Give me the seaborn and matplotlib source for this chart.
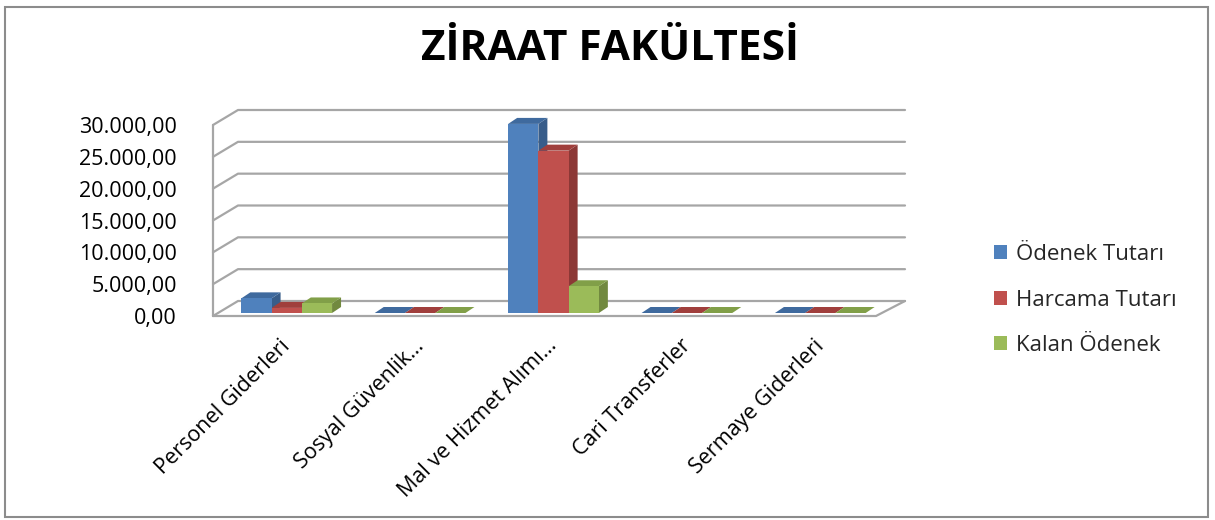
import numpy as np
import pandas as pd
import matplotlib
matplotlib.use("Agg")
import matplotlib.pyplot as plt
import seaborn as sns
from matplotlib.patches import Polygon, Patch, Rectangle
from matplotlib.ticker import FuncFormatter

# ---- data ----
categories = ["Personel Giderleri", "Sosyal Güvenlik…", "Mal ve Hizmet Alımı…",
              "Cari Transferler", "Sermaye Giderleri"]
odenek = [2300, 0, 29700, 0, 0]
harcama = [800, 0, 25500, 0, 0]
kalan = [1500, 0, 4200, 0, 0]
series_names = ["Ödenek Tutarı", "Harcama Tutarı", "Kalan Ödenek"]
yticks = [0, 5000, 10000, 15000, 20000, 25000, 30000]
title = "ZİRAAT FAKÜLTESİ"

front_colors = ["#4F81BD", "#C0504D", "#9BBB59"]
side_colors = ["#385D8A", "#8C3836", "#71893F"]
top_colors = ["#3F6A9E", "#A03F3C", "#819F48"]

df = pd.DataFrame({
    "cat": categories * 3,
    "series": sum([[s] * len(categories) for s in series_names], []),
    "value": odenek + harcama + kalan,
})

sns.set_theme(style="white")
plt.rcParams["font.family"] = ["Open Sans", "DejaVu Sans"]

W, H = 1215, 520
fig = plt.figure(figsize=(W / 100, H / 100), dpi=100)
fig.patch.set_facecolor("white")

# axes (front plane)
x0, x1, yb, yt = 213, 880, 316, 125
ax = fig.add_axes([x0 / W, (H - yb) / H, (x1 - x0) / W, (yb - yt) / H])
ax.set_facecolor("none")

sns.barplot(data=df, x="cat", y="value", hue="series", hue_order=series_names,
            palette=front_colors, width=0.68, linewidth=0, saturation=1,
            ax=ax, legend=False, zorder=3)
ax.set_xlim(-0.5, len(categories) - 0.5)
ax.set_ylim(0, 30000)

# pixel -> data conversions
px_x = (len(categories)) / (x1 - x0)
px_y = 30000 / (yb - yt)

# back wall grid
gdx, gdy = 25 * px_x, 15 * px_y
xl, xr = -0.5, len(categories) - 0.5
gc = "#A6A6A6"
for v in yticks:
    ax.plot([xl, xl + gdx, xr + gdx], [v, v + gdy, v + gdy], color=gc, lw=1.6,
            clip_on=False, zorder=1)
ax.plot([xl, xl], [0, 30000], color=gc, lw=1.6, clip_on=False, zorder=1)
# floor front edge
ax.plot([xl, xr - 4 * px_x, xr + gdx], [0, 0, gdy], color=gc, lw=1.6,
        clip_on=False, zorder=1)

# 3D faces for bars (bars sit a little into the depth)
shift_x, shift_y = 7 * px_x, 3 * px_y
ddx, ddy = 9 * px_x, 6 * px_y
n = len(categories)
for i, p in enumerate(list(ax.patches)):
    s = i // n
    p.set_x(p.get_x() + shift_x)
    p.set_y(shift_y)
    bx, bw, bh = p.get_x(), p.get_width(), p.get_height()
    b0, b1 = shift_y, shift_y + bh
    top = Polygon([[bx, b1], [bx + bw, b1], [bx + bw + ddx, b1 + ddy], [bx + ddx, b1 + ddy]],
                  closed=True, facecolor=top_colors[s], edgecolor="none", zorder=2.5,
                  clip_on=False)
    side = Polygon([[bx + bw, b0], [bx + bw + ddx, b0 + ddy], [bx + bw + ddx, b1 + ddy], [bx + bw, b1]],
                   closed=True, facecolor=side_colors[s], edgecolor="none", zorder=2.5,
                   clip_on=False)
    p.set_clip_on(False)
    ax.add_patch(side)
    ax.add_patch(top)

for sp in ax.spines.values():
    sp.set_visible(False)
ax.set_xlabel("")
ax.set_ylabel("")
ax.set_yticks(yticks)
ax.yaxis.set_major_formatter(FuncFormatter(
    lambda v, pos: f"{v:,.2f}".replace(",", "X").replace(".", ",").replace("X", ".")))
ax.tick_params(axis="y", length=0, pad=26, labelsize=15.5, colors="#000000")
ax.tick_params(axis="x", length=0, pad=14, labelsize=15.5, colors="#000000")
plt.setp(ax.get_xticklabels(), rotation=45, ha="right", rotation_mode="anchor")

# title
fig.text(610 / W, 1 - 50 / H, title, ha="center", va="center",
         fontsize=30.5, fontweight="bold", color="#000000")

# legend
handles = [Patch(facecolor=c, edgecolor="none") for c in front_colors]
fig.legend(handles, series_names, loc="center left",
           bbox_to_anchor=(974 / W, 1 - 300 / H), frameon=False, fontsize=16,
           handlelength=0.6, handleheight=0.6, handletextpad=0.4,
           labelspacing=1.1)

# outer frame
fig.add_artist(Rectangle((5 / W, 3 / H), (W - 12) / W, (H - 10) / H,
                         transform=fig.transFigure, fill=False,
                         edgecolor="#8C8C8C", lw=1.5))

fig.savefig("out.png", dpi=100)
